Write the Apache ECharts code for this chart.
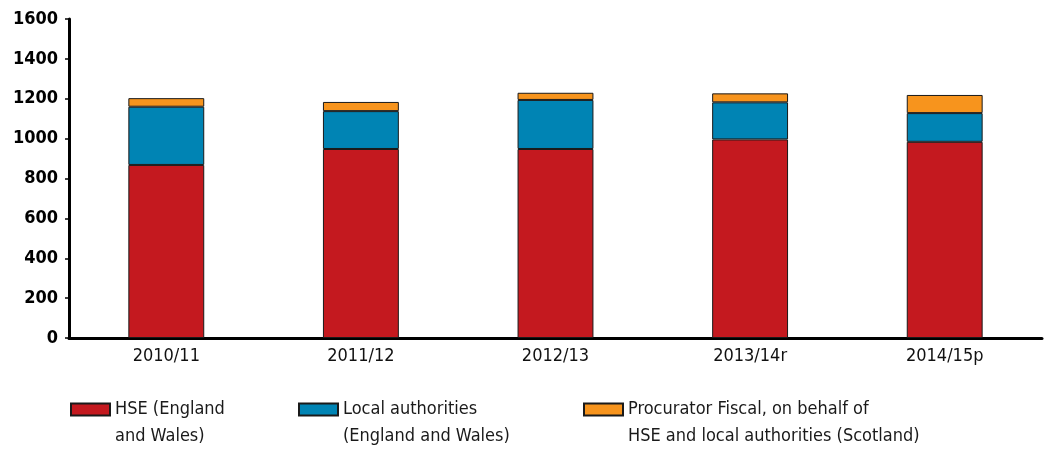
<!DOCTYPE html>
<html>
<head>
<meta charset="utf-8">
<script src="https://cdn.jsdelivr.net/npm/echarts@6/dist/echarts.min.js"></script>
<style>html,body{margin:0;padding:0;background:#fff;}#c{width:1044px;height:449px;}</style>
</head>
<body>
<div id="c"></div>
<script>
const categories = ['2010/11', '2011/12', '2012/13', '2013/14r', '2014/15p'];
const hse = [868, 948, 948, 996, 984];
const localAuth = [292, 190, 246, 186, 144];
const procurator = [43, 46, 36, 45, 91];
const seriesNames = ['HSE (England\nand Wales)', 'Local authorities\n(England and Wales)', 'Procurator Fiscal, on behalf of\nHSE and local authorities (Scotland)'];
const colors = ['#C4191F', '#0084B4', '#F7941D'];

const FONT = '"Liberation Sans Narrow", "DejaVu Sans Condensed", "Liberation Sans", sans-serif';
const chart = echarts.init(document.getElementById('c'));
const dataSets = [hse, localAuth, procurator];
const legendLefts = [65, 293, 578];
chart.setOption({
  animation: false,
  color: colors,
  grid: { left: 69, right: 2, top: 19, bottom: 111 },
  xAxis: {
    type: 'category',
    data: categories,
    axisLine: { lineStyle: { color: '#000', width: 3 } },
    axisTick: { alignWithLabel: true, length: 5, lineStyle: { color: '#000', width: 1.5 } },
    axisLabel: { color: '#111', fontFamily: FONT, fontSize: 18, margin: 9 }
  },
  yAxis: {
    type: 'value', min: 0, max: 1600, interval: 200,
    splitLine: { show: false },
    axisLine: { show: true, lineStyle: { color: '#000', width: 3 } },
    axisTick: { show: true, length: 4, lineStyle: { color: '#000', width: 1.5 } },
    axisLabel: { color: '#000', fontFamily: FONT, fontSize: 18, fontWeight: 'bold', margin: 11, formatter: v => String(v) }
  },
  legend: seriesNames.map((n, i) => ({
    data: [n],
    left: legendLefts[i],
    top: 364,
    itemWidth: 39, itemHeight: 12, itemGap: 10,
    icon: 'rect',
    selectedMode: false,
    formatter: name => '\n' + name,
    textStyle: { fontFamily: FONT, fontSize: 18, color: '#1a1a1a', lineHeight: 27 }
  })),
  series: seriesNames.map((n, i) => ({
    name: n,
    type: 'bar',
    stack: 'total',
    barWidth: '39%',
    data: dataSets[i],
    itemStyle: { color: colors[i], borderColor: '#1a1a1a', borderWidth: 1 }
  }))
});
</script>
</body>
</html>
